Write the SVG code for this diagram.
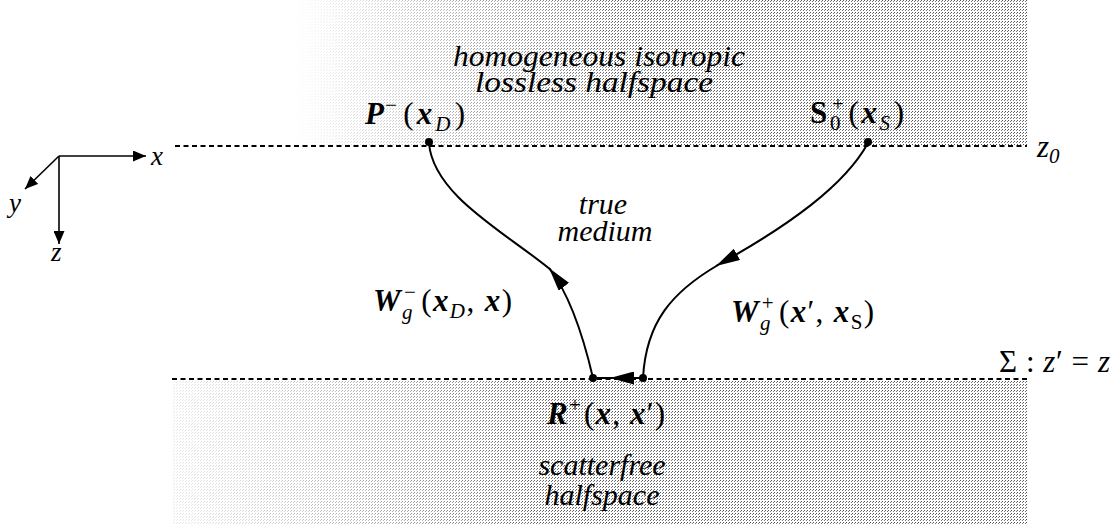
<svg xmlns="http://www.w3.org/2000/svg" width="1119" height="525" viewBox="0 0 1119 525">
<style>
.lbl{font-family:"Liberation Serif",serif;font-style:italic;font-size:30px;fill:#000}
.m{font-family:"Liberation Serif",serif;font-size:31px;fill:#000}
.bi{font-weight:bold;font-style:italic}
.it{font-style:italic}
.sm{font-size:21px}
.ax{font-family:"Liberation Serif",serif;font-style:italic;font-size:27px;fill:#000}
.dash{stroke:#000;stroke-width:2;stroke-dasharray:5 3.5;fill:none}
.conn{stroke:#000;stroke-width:2;fill:none}
.axis{stroke:#000;stroke-width:1.6;fill:none}
</style>
<defs>
<pattern id="st" width="3" height="3" patternUnits="userSpaceOnUse">
<rect x="0" y="0" width="1" height="1" fill="#555"/>
<rect x="2" y="1" width="1" height="1" fill="#777"/>
</pattern>
<linearGradient id="gTop" gradientUnits="userSpaceOnUse" x1="295" y1="0" x2="640" y2="0">
<stop offset="0" stop-color="#000"/>
<stop offset="0.3" stop-color="#555"/>
<stop offset="1" stop-color="#fff"/>
</linearGradient>
<linearGradient id="gBot" gradientUnits="userSpaceOnUse" x1="170" y1="0" x2="560" y2="0">
<stop offset="0" stop-color="#222"/>
<stop offset="0.4" stop-color="#666"/>
<stop offset="1" stop-color="#fff"/>
</linearGradient>
<mask id="mTop"><rect x="295" y="0" width="732" height="145" fill="url(#gTop)"/></mask>
<mask id="mBot"><rect x="172" y="381" width="855" height="144" fill="url(#gBot)"/></mask>
<marker id="ah" viewBox="0 0 10 10" refX="10" refY="5" markerWidth="13" markerHeight="11" markerUnits="userSpaceOnUse" orient="auto" preserveAspectRatio="none">
<path d="M0,0 L10,5 L0,10 z" fill="#000"/>
</marker>
<marker id="ahL" viewBox="0 0 10 10" refX="10" refY="5" markerWidth="24" markerHeight="13" markerUnits="userSpaceOnUse" orient="auto" preserveAspectRatio="none">
<path d="M0,0 L10,5 L0,10 z" fill="#000"/>
</marker>
</defs>

<g id="background">
<rect x="295" y="0" width="732" height="145" fill="url(#st)" mask="url(#mTop)"/>
<rect x="172" y="381" width="855" height="144" fill="url(#st)" mask="url(#mBot)"/>
</g>

<g id="axes">
<line class="axis" x1="59" y1="156" x2="146" y2="156" marker-end="url(#ah)"/>
<line class="axis" x1="59" y1="156" x2="25" y2="189" marker-end="url(#ah)"/>
<line class="axis" x1="59" y1="156" x2="59" y2="244" marker-end="url(#ah)"/>
<text class="ax" x="151" y="165">x</text>
<text class="ax" x="9" y="212">y</text>
<text class="ax" x="51" y="261">z</text>
</g>

<g id="interfaces">
<line class="dash" x1="175" y1="146" x2="1027" y2="146"/>
<line class="dash" x1="172" y1="379" x2="1027" y2="379"/>
<text class="m" x="1037" y="157"><tspan class="it">z</tspan><tspan class="sm it" dy="6">0</tspan></text>
<text class="m" x="999" y="372" textLength="111" lengthAdjust="spacing">Σ : <tspan class="it">z</tspan>′ = <tspan class="it">z</tspan></text>
</g>

<g id="region-top">
<text class="lbl" x="599" y="66" text-anchor="middle" textLength="292" lengthAdjust="spacingAndGlyphs">homogeneous isotropic</text>
<text class="lbl" x="594" y="92" text-anchor="middle" textLength="238" lengthAdjust="spacingAndGlyphs">lossless halfspace</text>
</g>
<g id="region-mid">
<text class="lbl" x="603" y="214" text-anchor="middle">true</text>
<text class="lbl" x="605" y="241" text-anchor="middle">medium</text>
</g>
<g id="region-bot">
<text class="lbl" x="602" y="475" text-anchor="middle">scatterfree</text>
<text class="lbl" x="602" y="505" text-anchor="middle">halfspace</text>
</g>

<g id="node-P">
<circle cx="429" cy="142" r="4" fill="#000"/>
<text class="m" x="365" y="124" textLength="100" lengthAdjust="spacing"><tspan class="bi">P</tspan><tspan class="sm" dx="-2" dy="-12">−</tspan><tspan dx="3" dy="12">(</tspan><tspan class="bi">x</tspan><tspan class="sm it" dy="7">D</tspan><tspan dx="1" dy="-7">)</tspan></text>
</g>

<g id="node-S">
<circle cx="868" cy="142" r="4" fill="#000"/>
<text class="m" x="810" y="123" textLength="94" lengthAdjust="spacing"><tspan font-weight="bold">S</tspan><tspan class="sm" dy="7">0</tspan><tspan class="sm" dx="-11" dy="-19">+</tspan><tspan dx="2" dy="12">(</tspan><tspan class="bi">x</tspan><tspan class="sm it" dy="7">S</tspan><tspan dx="1" dy="-7">)</tspan></text>
</g>

<g id="node-R">
<circle cx="593" cy="378" r="4" fill="#000"/>
<circle cx="643" cy="378" r="4" fill="#000"/>
<text class="m" x="547" y="424" textLength="118" lengthAdjust="spacing"><tspan class="bi">R</tspan><tspan class="sm" dy="-12">+</tspan><tspan dx="2" dy="12">(</tspan><tspan class="bi">x</tspan>, <tspan class="bi">x</tspan>′)</text>
</g>

<g id="connectors">
<path class="conn" d="M643,378 L610,378" marker-end="url(#ahL)"/>
<path class="conn" d="M612,378 L593,378"/>
<path class="conn" d="M593,378 C583,335 568,292 549,268" marker-end="url(#ahL)"/>
<path class="conn" d="M551,270 C505,232 433,195 429,143"/>
<path class="conn" d="M868,143 C845,185 790,225 716,266" marker-end="url(#ahL)"/>
<path class="conn" d="M718,265 C672,292 646,322 643,378"/>
</g>

<g id="labels">
<text class="m" x="373" y="311" textLength="139" lengthAdjust="spacing"><tspan class="bi">W</tspan><tspan class="sm it" dy="8">g</tspan><tspan class="sm" dx="-10" dy="-20">−</tspan><tspan dx="4" dy="12">(</tspan><tspan class="bi">x</tspan><tspan class="sm it" dy="7">D</tspan><tspan dy="-7">, </tspan><tspan class="bi">x</tspan>)</text>
<text class="m" x="731" y="322" textLength="143" lengthAdjust="spacing"><tspan class="bi">W</tspan><tspan class="sm it" dy="8">g</tspan><tspan class="sm" dx="-10" dy="-20">+</tspan><tspan dx="4" dy="12">(</tspan><tspan class="bi">x</tspan>′, <tspan class="bi">x</tspan><tspan class="sm" dy="7">S</tspan><tspan dy="-7">)</tspan></text>
</g>
</svg>
